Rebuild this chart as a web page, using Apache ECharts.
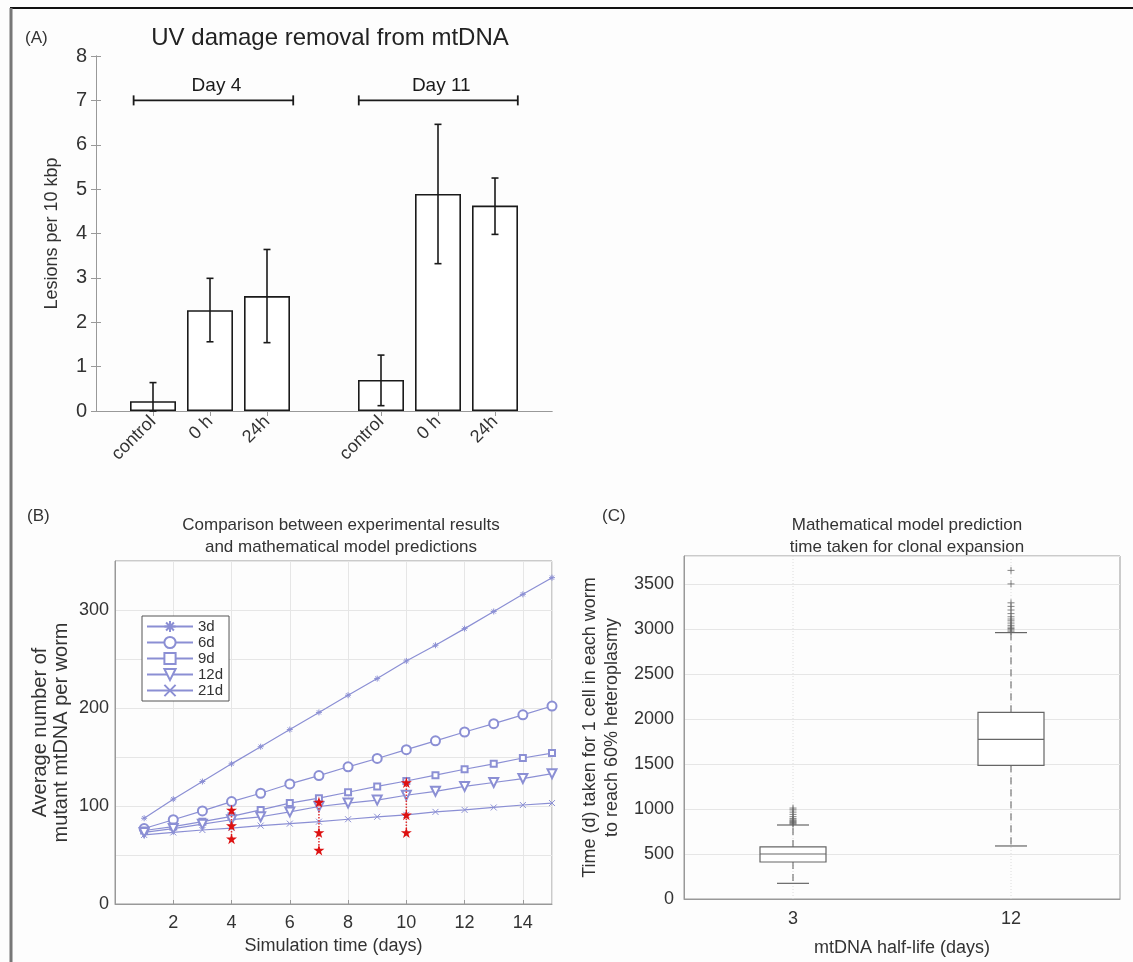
<!DOCTYPE html>
<html>
<head>
<meta charset="utf-8">
<script src="https://cdn.jsdelivr.net/npm/echarts@6/dist/echarts.min.js"></script>
<style>
html, body { margin: 0; background: #fdfdfd; }
#main { width: 1133px; height: 962px; }
</style>
</head>
<body>
<div id="main"></div>
<script>
// (A) UV damage removal
var barPos = [1, 2, 3, 5, 6, 7];
var barNames = ['control', '0 h', '24h', 'control', '0 h', '24h'];
var lesions = [0.22, 2.27, 2.59, 0.70, 4.89, 4.63];
var errLow = [0, 1.56, 1.54, 0.12, 3.32, 3.98];
var errHigh = [0.64, 2.99, 3.64, 1.26, 6.46, 5.25];
var dayNames = ['Day 4', 'Day 11'];
var dayFrom = [0.66, 4.61];
var dayTo = [3.46, 7.4];
var dayLevel = [7, 7];

// (B) model vs experiment
var simDays = [1, 2, 3, 4, 5, 6, 7, 8, 9, 10, 11, 12, 13, 14, 15];
var halfLifeNames = ['3d', '6d', '9d', '12d', '21d'];
var mut3d = [87.5, 107, 125, 143, 160.5, 178, 195.5, 213, 230, 248, 264, 281, 298.5, 316, 333];
var mut6d = [77, 86, 95, 104.5, 113, 122.5, 131, 140, 148.5, 157.5, 166.5, 175.5, 184, 193, 202];
var mut9d = [75, 79, 84, 89.5, 96, 103, 108, 114, 120, 125.5, 131.5, 137.5, 143, 149, 154];
var mut12d = [73, 77, 81.5, 86, 89, 94, 99.5, 103, 106, 111, 115, 120, 124, 128, 133];
var mut21d = [70.5, 73, 75.5, 77.5, 80, 82, 84, 86.5, 89, 91, 94, 96, 98.5, 101, 103];
var expDays = [4, 7, 10];
var expHigh = [96, 104, 124];
var expMid = [80, 73, 91];
var expLow = [66.5, 55, 73];

// (C) clonal expansion time
var cHalfLives = ['3', '12'];
var cWhiskLow = [174, 589];
var cQ1 = [411, 1485];
var cMedian = [500, 1774];
var cQ3 = [578, 2074];
var cWhiskHigh = [822, 2959];
var cOut3 = [830, 840, 850, 860, 870, 880, 895, 915, 940, 965, 990, 1010];
var cOut12 = [2975, 2990, 3005, 3020, 3040, 3065, 3090, 3110, 3135, 3170, 3210, 3250, 3290, 3500, 3650];

var FONT = 'Liberation Sans, Arial, sans-serif';
var TXT = '#333';
var LINE_C = '#8b8fd4';
var BOX_C = '#999';
var GRIDLINE = '#e6e6e6';

var chart = echarts.init(document.getElementById('main'));

var lineSeries = [mut3d, mut6d, mut9d, mut12d, mut21d];
var symbols = [
  'path://M5,0L5,10M0,5L10,5M1.5,1.5L8.5,8.5M8.5,1.5L1.5,8.5',
  'emptyCircle',
  'emptyRect',
  'emptyTriangle',
  'path://M0,0L10,10M10,0L0,10'
];
var symSizes = [6, 9, 6, 9, 6];
var symRot = [0, 0, 0, 180, 0];

var series = [];

series.push({
  type: 'bar', xAxisIndex: 0, yAxisIndex: 0,
  barWidth: 46,
  data: barPos.map(function (p, i) { return [p, lesions[i]]; }),
  itemStyle: { color: '#fff', borderColor: '#1a1a1a', borderWidth: 1.6 },
  z: 2
});

series.push({
  type: 'custom', xAxisIndex: 0, yAxisIndex: 0,
  data: barPos.map(function (p, i) { return [p, errLow[i], errHigh[i]]; }),
  renderItem: function (params, api) {
    var x = api.value(0);
    var lo = api.coord([x, api.value(1)]);
    var hi = api.coord([x, api.value(2)]);
    var w = 3.5, st = { stroke: '#1a1a1a', lineWidth: 1.6 };
    return { type: 'group', children: [
      { type: 'line', shape: { x1: lo[0], y1: lo[1], x2: hi[0], y2: hi[1] }, style: st },
      { type: 'line', shape: { x1: lo[0] - w, y1: lo[1], x2: lo[0] + w, y2: lo[1] }, style: st },
      { type: 'line', shape: { x1: hi[0] - w, y1: hi[1], x2: hi[0] + w, y2: hi[1] }, style: st }
    ] };
  },
  z: 3
});

series.push({
  type: 'custom', xAxisIndex: 0, yAxisIndex: 0,
  data: dayNames.map(function (n, i) { return [dayFrom[i], dayTo[i], dayLevel[i], n]; }),
  renderItem: function (params, api) {
    var a = api.coord([api.value(0), api.value(2)]);
    var b = api.coord([api.value(1), api.value(2)]);
    var st = { stroke: '#1a1a1a', lineWidth: 1.8 };
    return { type: 'group', children: [
      { type: 'line', shape: { x1: a[0], y1: a[1], x2: b[0], y2: b[1] }, style: st },
      { type: 'line', shape: { x1: a[0], y1: a[1] - 5, x2: a[0], y2: a[1] + 5 }, style: st },
      { type: 'line', shape: { x1: b[0], y1: b[1] - 5, x2: b[0], y2: b[1] + 5 }, style: st },
      { type: 'text', x: (a[0] + b[0]) / 2 + 3, y: a[1] - 5,
        style: { text: dayNames[params.dataIndex], fill: '#1a1a1a', font: '19px ' + FONT,
          textAlign: 'center', textVerticalAlign: 'bottom', align: 'center', verticalAlign: 'bottom' } }
    ] };
  }
});

lineSeries.forEach(function (arr, k) {
  series.push({
    name: halfLifeNames[k], type: 'line', xAxisIndex: 2, yAxisIndex: 2,
    data: simDays.map(function (d, i) { return [d, arr[i]]; }),
    symbol: symbols[k], symbolSize: symSizes[k], symbolRotate: symRot[k],
    showAllSymbol: true,
    lineStyle: { color: LINE_C, width: 1.2 },
    itemStyle: { color: LINE_C, borderColor: LINE_C, borderWidth: 1 },
    z: 3
  });
});

expDays.forEach(function (d, i) {
  series.push({
    type: 'line', xAxisIndex: 2, yAxisIndex: 2,
    data: [[d, expHigh[i]], [d, expMid[i]], [d, expLow[i]]],
    symbol: 'path://M50,0L61,35L98,35L68,57L79,91L50,70L21,91L32,57L2,35L39,35Z',
    symbolSize: 11,
    lineStyle: { color: '#e03030', type: 'dotted', width: 1.5 },
    itemStyle: { color: '#dd1111' },
    z: 4
  });
});

series.push({
  type: 'custom', xAxisIndex: 4, yAxisIndex: 4,
  data: cHalfLives.map(function (h, i) { return [i, cWhiskLow[i], cQ1[i], cMedian[i], cQ3[i], cWhiskHigh[i]]; }),
  renderItem: function (params, api) {
    var idx = api.value(0);
    var pLow = api.coord([idx, api.value(1)]);
    var pQ1 = api.coord([idx, api.value(2)]);
    var pMed = api.coord([idx, api.value(3)]);
    var pQ3 = api.coord([idx, api.value(4)]);
    var pHigh = api.coord([idx, api.value(5)]);
    var cs = params.coordSys;
    var x = pMed[0], hw = 33, cw = 16;
    var st = { stroke: '#666', lineWidth: 1.2, fill: null };
    var dash = { stroke: '#777', lineWidth: 1.2, lineDash: [7, 5] };
    return { type: 'group', children: [
      { type: 'line', shape: { x1: x, y1: cs.y, x2: x, y2: cs.y + cs.height },
        style: { stroke: '#dcdcdc', lineWidth: 1, lineDash: [1, 2] } },
      { type: 'line', shape: { x1: x, y1: pQ3[1], x2: x, y2: pHigh[1] }, style: dash },
      { type: 'line', shape: { x1: x, y1: pQ1[1], x2: x, y2: pLow[1] }, style: dash },
      { type: 'line', shape: { x1: x - cw, y1: pHigh[1], x2: x + cw, y2: pHigh[1] }, style: st },
      { type: 'line', shape: { x1: x - cw, y1: pLow[1], x2: x + cw, y2: pLow[1] }, style: st },
      { type: 'rect', shape: { x: x - hw, y: pQ3[1], width: 2 * hw, height: pQ1[1] - pQ3[1] },
        style: { stroke: '#666', lineWidth: 1.2, fill: '#fff' } },
      { type: 'line', shape: { x1: x - hw, y1: pMed[1], x2: x + hw, y2: pMed[1] }, style: st }
    ] };
  },
  z: 2
});

series.push({
  type: 'scatter', xAxisIndex: 4, yAxisIndex: 4,
  data: cOut3.map(function (v) { return [0, v]; }).concat(cOut12.map(function (v) { return [1, v]; })),
  symbol: 'path://M5,0L5,10M0,5L10,5',
  symbolSize: 7,
  itemStyle: { color: '#666', borderColor: '#666', borderWidth: 1 },
  z: 3
});

var option = {
  animation: false,
  backgroundColor: '#fdfdfd',
  textStyle: { fontFamily: FONT, color: TXT },
  title: [
    { text: 'UV damage removal from mtDNA', left: 325, top: 21, textAlign: 'center',
      textStyle: { fontSize: 24, fontWeight: 'normal', color: '#222', fontFamily: FONT } },
    { text: 'Comparison between experimental results\nand mathematical model predictions', left: 336, top: 509, textAlign: 'center',
      textStyle: { fontSize: 17, fontWeight: 'normal', color: TXT, lineHeight: 22, fontFamily: FONT } },
    { text: 'Mathematical model prediction\ntime taken for clonal expansion', left: 902, top: 509, textAlign: 'center',
      textStyle: { fontSize: 17, fontWeight: 'normal', color: TXT, lineHeight: 22, fontFamily: FONT } },
    { text: '(A)', left: 20, top: 25, textStyle: { fontSize: 17, fontWeight: 'normal', color: TXT, fontFamily: FONT } },
    { text: '(B)', left: 22, top: 503, textStyle: { fontSize: 17, fontWeight: 'normal', color: TXT, fontFamily: FONT } },
    { text: '(C)', left: 597, top: 503, textStyle: { fontSize: 17, fontWeight: 'normal', color: TXT, fontFamily: FONT } }
  ],
  legend: {
    data: halfLifeNames,
    orient: 'vertical',
    left: 142, top: 616,
    itemWidth: 46, itemHeight: 14, itemGap: 1,
    padding: [3, 6, 3, 4],
    backgroundColor: '#fff',
    borderColor: '#555', borderWidth: 1, borderRadius: 0,
    textStyle: { fontSize: 15, color: TXT, fontFamily: FONT }
  },
  grid: [
    { left: 96, top: 56, width: 456, height: 355 },
    { left: 115, top: 561, width: 437, height: 343, show: true, borderColor: BOX_C, borderWidth: 1 },
    { left: 684, top: 556, width: 436, height: 343, show: true, borderColor: BOX_C, borderWidth: 1 }
  ],
  xAxis: [
    { type: 'value', gridIndex: 0, min: 0, max: 8, interval: 1,
      axisLine: { lineStyle: { color: BOX_C } },
      axisTick: { inside: true, length: 5, customValues: barPos, lineStyle: { color: BOX_C } },
      axisLabel: { customValues: barPos, rotate: 45, fontSize: 18, color: TXT, margin: 8,
        formatter: function (v) { var i = barPos.indexOf(v); return i < 0 ? '' : barNames[i]; } },
      splitLine: { show: false } },
    { type: 'value', gridIndex: 0, min: 0, max: 8, interval: 1, position: 'top',
      axisLine: { lineStyle: { color: BOX_C } },
      axisTick: { inside: true, length: 5, customValues: barPos, lineStyle: { color: BOX_C } },
      axisLabel: { show: false }, splitLine: { show: false } },
    { type: 'value', gridIndex: 1, min: 0, max: 15, interval: 2,
      name: 'Simulation time (days)', nameLocation: 'middle', nameGap: 33, nameMoveOverlap: false,
      nameTextStyle: { fontSize: 18, color: TXT },
      axisLine: { lineStyle: { color: BOX_C } },
      axisTick: { inside: true, length: 4, lineStyle: { color: BOX_C } },
      axisLabel: { fontSize: 18, color: TXT, margin: 10, showMaxLabel: false,
        formatter: function (v) { return v === 0 || v === 15 ? '' : String(v); } },
      splitLine: { show: true, lineStyle: { color: GRIDLINE } } },
    { type: 'value', gridIndex: 1, min: 0, max: 15, position: 'top', show: false },
    { type: 'category', gridIndex: 2, data: cHalfLives, boundaryGap: true,
      name: 'mtDNA half-life (days)', nameLocation: 'middle', nameGap: 40, nameMoveOverlap: false,
      nameTextStyle: { fontSize: 18, color: TXT },
      axisLine: { lineStyle: { color: BOX_C } },
      axisTick: { show: false },
      axisLabel: { fontSize: 18, color: TXT, margin: 11 },
      splitLine: { show: false } }
  ],
  yAxis: [
    { type: 'value', gridIndex: 0, min: 0, max: 8, interval: 1,
      name: 'Lesions per 10 kbp', nameLocation: 'middle', nameGap: 35, nameMoveOverlap: false,
      nameTextStyle: { fontSize: 18, color: TXT },
      axisLine: { show: true, lineStyle: { color: BOX_C } },
      axisTick: { show: true, inside: true, length: 5, lineStyle: { color: BOX_C } },
      axisLabel: { fontSize: 20, color: TXT, margin: 9 },
      splitLine: { show: false } },
    { type: 'value', gridIndex: 0, min: 0, max: 8, interval: 1, position: 'right',
      axisLine: { show: true, lineStyle: { color: BOX_C } },
      axisTick: { show: true, inside: true, length: 5, lineStyle: { color: BOX_C } },
      axisLabel: { show: false }, splitLine: { show: false } },
    { type: 'value', gridIndex: 1, min: 0, max: 350, interval: 50,
      name: 'Average number of\nmutant mtDNA per worm', nameLocation: 'middle', nameGap: 43, nameMoveOverlap: false,
      nameTextStyle: { fontSize: 20, color: TXT, lineHeight: 21 },
      axisLine: { show: true, lineStyle: { color: BOX_C } },
      axisTick: { show: false },
      axisLabel: { fontSize: 18, color: TXT, margin: 6,
        formatter: function (v) { return v % 100 === 0 ? String(v) : ''; } },
      splitLine: { show: true, lineStyle: { color: GRIDLINE } } },
    { type: 'value', gridIndex: 1, min: 0, max: 350, position: 'right', show: false },
    { type: 'value', gridIndex: 2, min: 0, max: 3810, interval: 500,
      name: 'Time (d) taken for 1 cell in each worm\nto reach 60% heteroplasmy', nameLocation: 'middle', nameGap: 61, nameMoveOverlap: false,
      nameTextStyle: { fontSize: 18, color: TXT, lineHeight: 22 },
      axisLine: { show: true, lineStyle: { color: BOX_C } },
      axisTick: { show: false },
      axisLabel: { fontSize: 18, color: TXT, margin: 10, showMaxLabel: false,
        formatter: function (v) { return v % 500 === 0 ? String(v) : ''; } },
      splitLine: { show: true, lineStyle: { color: GRIDLINE } } }
  ],
  graphic: [
    { type: 'line', shape: { x1: 10, y1: 8, x2: 1133, y2: 8 }, style: { stroke: '#111', lineWidth: 2 } },
    { type: 'line', shape: { x1: 11, y1: 8, x2: 11, y2: 962 }, style: { stroke: '#777', lineWidth: 3 } }
  ],
  series: series
};

chart.setOption(option);
</script>
</body>
</html>
